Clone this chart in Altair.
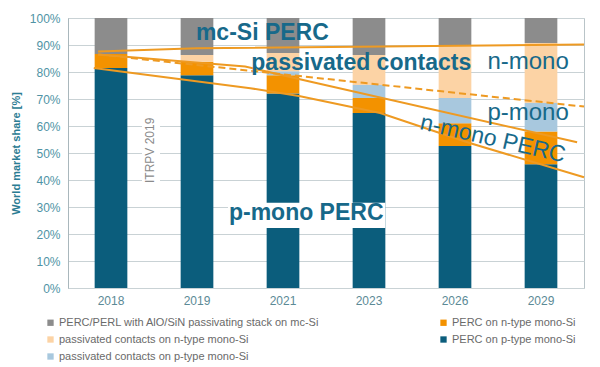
import altair as alt
import pandas as pd

# ---- data ----
years = ["2018", "2019", "2021", "2023", "2026", "2029"]
perc_p = [81.5, 78.8, 72.0, 64.8, 52.6, 45.8]      # PERC on p-type mono-Si
perc_n = [5.2, 5.0, 6.8, 5.6, 8.4, 12.2]           # PERC on n-type mono-Si
pc_p = [0.0, 0.0, 1.5, 4.8, 9.4, 10.5]             # passivated contacts on p-type
pc_n = [0.0, 2.5, 6.7, 11.1, 19.6, 22.2]           # passivated contacts on n-type
mc_si = [13.3, 13.7, 13.0, 13.7, 10.0, 9.3]        # PERC/PERL on mc-Si

lab_mc = "PERC/PERL with AlO/SiN passivating stack on mc-Si"
lab_pcn = "passivated contacts on n-type mono-Si"
lab_pcp = "passivated contacts on p-type mono-Si"
lab_pn = "PERC on n-type mono-Si"
lab_pp = "PERC on p-type mono-Si"

legend_order = [lab_mc, lab_pcn, lab_pcp, lab_pn, lab_pp]
legend_colors = ["#8c8c8c", "#fcd3a5", "#a8c8de", "#f39200", "#0b5d7c"]

# trend lines (x in category-index units 0..6, y in %)
line_a_x = [0.35, 1.5, 6.0]
line_a_y = [87.6, 88.8, 90.2]
line_b_x = [0.35, 2.06, 2.81, 5.92]
line_b_y = [86.5, 82.0, 76.5, 54.0]
line_c_x = [0.3, 2.12, 2.7, 3.63, 4.67, 6.0]
line_c_y = [81.5, 74.0, 71.0, 64.8, 53.7, 41.0]
dash_x = [0.35, 6.0]
dash_y = [86.5, 67.2]

# annotations
bold_text = ["mc-Si PERC", "passivated contacts"]
bold_x = [2.26, 3.41]
bold_y = [94.4, 83.4]
plain_text = ["n-mono", "p-mono"]
plain_x = [5.35, 5.35]
plain_y = [83.7, 64.8]
rot_text = ["n-mono PERC"]
rot_x = [4.94]
rot_y = [55.2]
box_text = ["p-mono PERC"]
box_x = [2.77]
box_y = [27.6]
box_x1, box_x2, box_y1, box_y2 = [1.86], [3.69], [22.2], [31.6]
itr_text = ["ITRPV 2019"]
itr_x = [0.95]
itr_y = [51.0]
itr_x1, itr_x2, itr_y1, itr_y2 = [0.86], [1.07], [37.5], [64.5]

# ---- build tables ----
rows = []
for i, yr in enumerate(years):
    base = 0.0
    for lab, arr in [(lab_pp, perc_p), (lab_pn, perc_n), (lab_pcp, pc_p),
                     (lab_pcn, pc_n), (lab_mc, mc_si)]:
        v = arr[i]
        rows.append({"year": yr, "series": lab, "y0": base, "y1": base + v})
        base += v
bars_df = pd.DataFrame(rows)

def line_df(name, xs, ys):
    return pd.DataFrame({"line": name, "x": xs, "y": ys})

solid_df = pd.concat([line_df("a", line_a_x, line_a_y),
                      line_df("b", line_b_x, line_b_y),
                      line_df("c", line_c_x, line_c_y)])
dash_df = line_df("d", dash_x, dash_y)

TEAL = "#17698a"
ORANGE = "#ee9a22"
xq = alt.Scale(domain=[0, 6], nice=False, zero=False)
yscale = alt.Scale(domain=[0, 100], nice=False)
yaxis = alt.Axis(values=list(range(0, 101, 10)), labelExpr="datum.value + '%'",
                 title="World market share [%]", titleFontWeight="bold",
                 titleFontSize=11, titleColor="#2b7c93", titlePadding=8,
                 labelColor="#4f93a5", labelFontSize=12, labelPadding=8,
                 ticks=False, domainColor="#a9b7bc", gridColor="#c9d2d5",
                 labelFont="Liberation Sans", titleFont="Liberation Sans")

def Xq():
    return alt.X("x:Q", scale=xq, axis=None)

def Yq(field="y"):
    return alt.Y(f"{field}:Q", scale=yscale, axis=yaxis)

bars = alt.Chart(bars_df).mark_bar().encode(
    x=alt.X("year:N", sort=years,
            scale=alt.Scale(paddingInner=0.62, paddingOuter=0.31),
            axis=alt.Axis(title=None, labelAngle=0, ticks=False, domain=False,
                          labelColor="#5b8a96", labelFontSize=12, labelPadding=7,
                          labelFont="Liberation Sans")),
    y=Yq("y0"), y2="y1",
    color=alt.Color("series:N",
                    scale=alt.Scale(domain=legend_order, range=legend_colors),
                    legend=alt.Legend(title=None, orient="none", legendX=-23,
                                      legendY=299, columns=2, symbolType="square",
                                      symbolSize=40, symbolStrokeWidth=0,
                                      labelFontSize=11, labelColor="#6a6a6a",
                                      labelFont="Liberation Sans", labelLimit=400,
                                      columnPadding=118, rowPadding=5,
                                      labelOffset=3, padding=0)),
    order=alt.value(0),
)

def box(x1, x2, y1, y2):
    return alt.Chart(pd.DataFrame({"x": x1, "x2": x2, "y": y1, "y2": y2})).mark_rect(
        color="white").encode(x=Xq(), x2="x2", y=Yq(), y2="y2")

solid = alt.Chart(solid_df).mark_line(color=ORANGE, strokeWidth=2).encode(
    x=Xq(), y=Yq(), detail="line:N", order="x:Q")
dashed = alt.Chart(dash_df).mark_line(color=ORANGE, strokeWidth=2,
                                      strokeDash=[7, 4]).encode(x=Xq(), y=Yq())

def texts(t, xs, ys, **kw):
    return alt.Chart(pd.DataFrame({"t": t, "x": xs, "y": ys})).mark_text(
        font="Liberation Sans", **kw).encode(x=Xq(), y=Yq(), text="t:N")

layers = [
    bars,
    box(box_x1, box_x2, box_y1, box_y2),
    box(itr_x1, itr_x2, itr_y1, itr_y2),
    solid, dashed,
    texts(bold_text, bold_x, bold_y, fontSize=23, fontWeight="bold", color=TEAL),
    texts(plain_text, plain_x, plain_y, fontSize=24, color=TEAL),
    texts(rot_text, rot_x, rot_y, fontSize=23, color=TEAL, angle=13),
    texts(box_text, box_x, box_y, fontSize=23, fontWeight="bold", color=TEAL),
    texts(itr_text, itr_x, itr_y, fontSize=12, color="#8a8a8a", angle=270),
]

chart = alt.layer(*layers).resolve_scale(x="independent").properties(
    width=516, height=270,
    padding={"left": 60, "top": 10, "right": 8, "bottom": 78},
    autosize=alt.AutoSizeParams(type="none"),
).configure_view(stroke="#b9c4c8", strokeWidth=1)

chart.save("out.html", embed_options={"renderer": "svg", "actions": False})
